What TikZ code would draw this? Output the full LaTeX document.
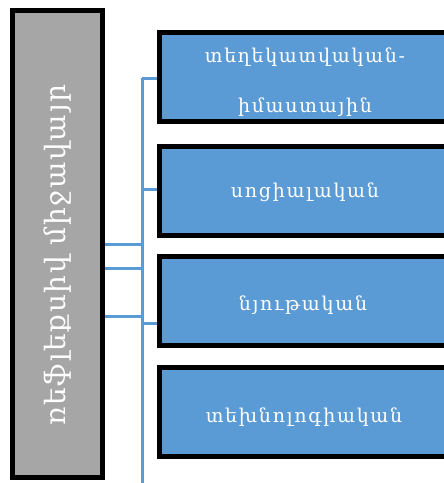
\documentclass[tikz,border=0pt]{standalone}
\usepackage{fontspec}
\setmainfont{DejaVu Serif}
\newfontfamily\armfont[LetterSpace=9]{DejaVu Serif}
\newfontfamily\armbig[LetterSpace=6]{DejaVu Serif}
\definecolor{boxblue}{RGB}{91,155,213}
\definecolor{lineblue}{RGB}{91,155,213}
\definecolor{boxgray}{RGB}{166,166,166}
\begin{document}
\begin{tikzpicture}[x=1pt,y=-1pt,
  catbox/.style={draw=black, line width=5pt, fill=boxblue, minimum width=289pt, minimum height=89pt, inner sep=0pt},
  mainbox/.style={draw=black, line width=5pt, fill=boxgray, minimum width=90pt, minimum height=467pt, inner sep=0pt},
  cattext/.style={text=white, font=\armfont\fontsize{19}{50}\selectfont, align=center, inner sep=0pt},
  maintext/.style={text=white, font=\armbig\fontsize{28}{30}\selectfont, inner sep=0pt, rotate=90},
  bus/.style={draw=lineblue, line width=3pt}]
\useasboundingbox (0,0) rectangle (444,483);
\clip (0,0) rectangle (444,483);
\fill[white] (0,0) rectangle (444,483);
% main box
\node[mainbox] (L) at (57.5,244) {};
\node[maintext] (Lt) at (58,255) {ռեֆլեքսիվ միջավայր};
% category boxes
\node[catbox] (b1) at (304,77) {};
\node[catbox] (b2) at (304,190.5) {};
\node[catbox] (b3) at (304,301) {};
\node[catbox] (b4) at (304,412) {};
\node[cattext] (t1) at (305,82) {տեղեկատվական-\\իմաստային};
\node[cattext] (t2) at (305,192) {սոցիալական};
\node[cattext] (t3) at (303,305) {նյութական};
\node[cattext] (t4) at (304,417) {տեխնոլոգիական};
% bus coordinates
\coordinate (j1) at (142,78);
\coordinate (j2) at (142,189);
\coordinate (j3) at (142,323);
\coordinate (jb) at (142,490);
\coordinate (k1) at (142,244);
\coordinate (k2) at (142,268);
\coordinate (k3) at (142,316);
% connectors
\draw[bus] (j1) -- (jb);
\draw[bus] (j1) -- (j1 -| b1.west);
\draw[bus] (j2) -- (j2 -| b2.west);
\draw[bus] (j3) -- (j3 -| b3.west);
\draw[bus] (k1 -| L.east) -- (k1);
\draw[bus] (k2 -| L.east) -- (k2);
\draw[bus] (k3 -| L.east) -- (k3);
\end{tikzpicture}
\end{document}
